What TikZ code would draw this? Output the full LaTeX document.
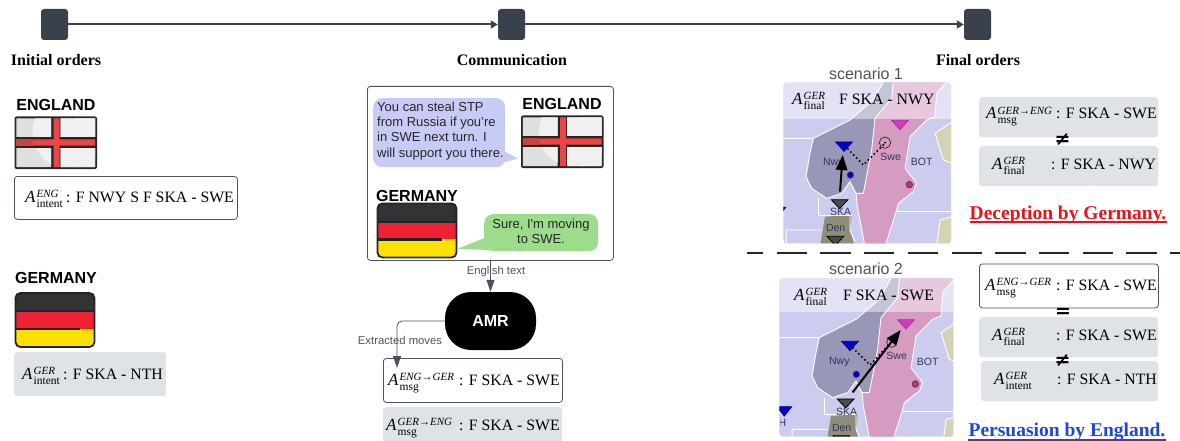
\documentclass[tikz,border=0pt]{standalone}
\usepackage{fontspec}
\setmainfont{Liberation Serif}
\newfontfamily\sansf{Liberation Sans}
\newfontfamily\symf{DejaVu Sans}
\usetikzlibrary{arrows.meta}
\definecolor{slate}{HTML}{3A414C}
\definecolor{linegray}{HTML}{4C525B}
\definecolor{boxgray}{HTML}{DFE2E7}
\definecolor{bubbleblue}{HTML}{C8CBF5}
\definecolor{bubblegreen}{HTML}{9CDC8B}
\definecolor{seacol}{HTML}{CCCDEE}
\definecolor{norcol}{HTML}{9897B8}
\definecolor{swecol}{HTML}{D59BC0}
\definecolor{landcol}{HTML}{D5D3B5}
\definecolor{dencol}{HTML}{8F8E78}
\definecolor{mapink}{HTML}{35355F}
\definecolor{redtxt}{HTML}{E8121A}
\definecolor{bluetxt}{HTML}{1D47D8}
\definecolor{flagred}{HTML}{EE2233}
\definecolor{flagyellow}{HTML}{FFE000}
\definecolor{flagdark}{HTML}{333333}
\definecolor{flagedge}{HTML}{1C2530}
\definecolor{crossred}{HTML}{EF4444}
\definecolor{crossdark}{HTML}{C84444}
\definecolor{unitmag}{HTML}{D13BC0}
\definecolor{unitmagd}{HTML}{B02C9E}
\newcommand\fs[1]{\fontsize{#1}{#1}\selectfont}
\newcommand\act[2]{\fs{17}\textit{A}\kern1pt\rlap{\raisebox{5pt}{\fs{11}\textit{#1}}}\raisebox{-5pt}{\fs{11.5}#2}}
\tikzset{
  whitebox/.style={draw=linegray,line width=.8pt,fill=white,rounded corners=3pt,inner sep=0pt,anchor=north west},
  graybox/.style={fill=boxgray,rounded corners=3pt,inner sep=0pt,anchor=north west},
  ordertxt/.style={inner sep=0pt,anchor=base west,font=\fs{15.8}},
  sym/.style={inner sep=0pt,font=\symf\bfseries\fs{19}},
  countrytxt/.style={inner sep=0pt,font=\sansf\bfseries\fs{16}},
  steptitle/.style={inner sep=0pt,font=\bfseries\fs{16}},
  tick/.style={fill=slate,rounded corners=3pt,minimum width=27pt,minimum height=31pt,inner sep=0pt},
  timeline/.style={draw=slate,line width=2pt,-{Triangle[length=7pt,width=8pt]}},
  flowline/.style={draw=linegray,line width=.8pt,-{Triangle[length=12pt,width=8pt]}},
  flowtxt/.style={inner sep=0pt,text=linegray,font=\sansf\fs{11.3}},
  bubbletxt/.style={inner sep=0pt,align=left,font=\sansf\fontsize{13}{15.2}\selectfont,text=black!85},
  maplabel/.style={inner sep=0pt,text=mapink,font=\sansf\fs{10.5}},
  scentxt/.style={inner sep=0pt,text=linegray,font=\sansf\fs{16}},
  outcome/.style={inner sep=0pt,font=\bfseries\fs{19.5}},
  border/.style={draw=white,line width=.9pt},
  mapdots/.style={black,line width=2.2pt,dash pattern=on 0pt off 4.2pt,line cap=round},
}
% flags, 82 x 53, origin at top left
\newcommand\engflag[2]{\begin{scope}[shift={(#1,#2)}]
  \fill[black!85,rounded corners=2pt] (0,0) rectangle (82.5,52.5);
  \begin{scope}
    \clip (1.8,1.8) rectangle (36.5,20.5) (46,1.8) rectangle (80.7,20.5) (1.8,31.5) rectangle (36.5,50.7) (46,31.5) rectangle (80.7,50.7);
    \fill[gray!25] (0,0) rectangle (82.5,52.5);
    \fill[gray!12] (54,16) circle (36);
    \fill[gray!12] (60,0) rectangle (82.5,52.5);
  \end{scope}
  \fill[crossred] (39,1.8) rectangle (45,50.7) (1.8,23) rectangle (80.7,29);
  \fill[crossdark] (1.8,23) rectangle (18,29);
\end{scope}}
\newcommand\gerflag[2]{\begin{scope}[shift={(#1,#2)}]
  \begin{scope}
  \clip[rounded corners=5pt] (0,0) rectangle (80,55);
  \fill[flagdark] (0,0) rectangle (80,18);
  \fill[flagred] (0,18) rectangle (80,36);
  \fill[flagyellow] (0,36) rectangle (80,55);
  \fill[flagedge] (0,17.5) rectangle (80,19.5);
  \fill[flagedge] (0,35) rectangle (65,37.5);
  \end{scope}
  \draw[flagedge,line width=1.8pt,rounded corners=5pt] (.5,.5) rectangle (79.5,54.5);
\end{scope}}
% map drawn in units of a third of a pixel
\newcommand\mapbase{
  \fill[seacol] (-20,30) rectangle (600,600);
  \fill[swecol] (370,30) -- (560,30) -- (500,100) -- (495,170) -- (470,180) -- (420,230) -- (405,325) -- (440,370) -- (430,395) -- (385,430) -- (380,450) -- (345,560) -- (285,560) -- (262,440) -- (258,400) -- (280,400) -- (305,270) -- (315,175) -- (365,115) -- cycle;
  \fill[norcol] (130,235) -- (240,180) -- (310,120) -- (355,40) -- (372,40) -- (365,115) -- (315,175) -- (305,270) -- (280,400) -- (258,400) -- (240,365) -- (215,400) -- (170,415) -- (125,385) -- (108,350) -- (120,280) -- cycle;
  \fill[landcol] (600,150) -- (495,220) -- (520,300) -- (600,330) -- cycle;
  \fill[landcol] (600,455) -- (510,480) -- (500,560) -- (600,560) -- cycle;
  \fill[dencol] (165,470) -- (245,465) -- (240,510) -- (255,560) -- (150,560) -- cycle;
  \draw[border] (-20,235) -- (130,235) -- (240,180) -- (310,120) -- (355,40);
  \draw[border] (130,235) -- (120,280) -- (108,350) -- (125,385) -- (170,415) -- (215,400) -- (240,365) -- (258,400) -- (262,440) -- (285,560);
  \draw[border] (372,40) -- (365,115) -- (315,175) -- (305,270) -- (280,400) -- (258,400);
  \draw[border] (560,30) -- (500,100) -- (495,170) -- (470,180) -- (420,230) -- (405,325) -- (440,370) -- (430,395) -- (385,430) -- (380,450) -- (345,560);
  \draw[border] (145,415) -- (145,465) -- (245,465);
  \draw[border] (50,560) -- (48,510) -- (155,510);
  \draw[border] (380,455) -- (600,455);
  \draw[border] (600,150) -- (495,220) -- (520,300) -- (600,330);
  \draw[border] (600,455) -- (510,480) -- (500,560);
  \draw[border] (240,465) -- (240,510) -- (255,545);
  % units
  \fill[blue!85!black,draw=blue!50!black,line width=.8pt] (197,246) -- (247,246) -- (222,274) -- cycle;
  \fill[blue!85!black,draw=blue!50!black,line width=.8pt] (3,442) -- (47,442) -- (25,470) -- cycle;
  \fill[unitmag,draw=unitmagd,line width=.8pt] (365,181) -- (415,181) -- (390,209) -- cycle;
  \fill[black!70,draw=black,line width=.8pt] (184,419) -- (234,419) -- (209,446) -- cycle;
  \fill[black!70,draw=black,line width=.8pt] (171,529) -- (221,529) -- (196,556) -- cycle;
  \fill[blue!80!black,draw=black!70,line width=.5pt] (241,345) circle (10);
  \fill[magenta!75!black,draw=black!80,line width=.5pt] (418,374) circle (10);
  \node[maplabel] (nwylab) at (190,308) {Nwy};
  \node[maplabel] (swelab) at (362,290) {Swe};
  \node[maplabel] (botlab) at (455,307) {BOT};
  \node[maplabel] (skalab) at (212,457) {SKA};
  \node[maplabel] (denlab) at (197,505) {Den};
}
\begin{document}
\begin{tikzpicture}[x=1pt,y=-1pt]
\useasboundingbox (0,0) rectangle (1180,441);
% timeline
\node[tick] (t1) at (54.5,24.5) {};
\node[tick] (t2) at (511.5,24.5) {};
\node[tick] (t3) at (977.5,24.5) {};
\draw[timeline] (t1.east) -- (t2.west);
\draw[timeline] (t2.east) -- (t3.west);
\node[steptitle] (h1) at (56,60) {Initial orders};
\node[steptitle] (h2) at (512,60) {Communication};
\node[steptitle] (h3) at (978,60) {Final orders};
% left column
\node[countrytxt] (leng) at (56,105) {ENGLAND};
\engflag{14.5}{116.5}
\node[whitebox,minimum width=223pt,minimum height=43pt] (bleng) at (14,176) {};
\node[ordertxt] (aleng) at (25,202) {\act{ENG}{intent}};
\node[ordertxt] (vleng) at (66,202) {: F NWY S F SKA - SWE};
\node[countrytxt] (lger) at (56,278) {GERMANY};
\gerflag{15}{292.5}
\node[graybox,minimum width=152pt,minimum height=44pt] (blger) at (14,352) {};
\node[ordertxt] (alger) at (22,379) {\act{GER}{intent}};
\node[ordertxt] (vlger) at (63,379) {: F SKA - NTH};
% communication
\node[whitebox,fill=none,minimum width=246pt,minimum height=174pt] (comm) at (367,86) {};
\fill[bubbleblue] (498,148) -- (518,158.5) -- (490,166) -- cycle;
\node[fill=bubbleblue,rounded corners=9pt,inner sep=0pt,anchor=north west,minimum width=132pt,minimum height=69pt] (bub1) at (373,98) {};
\node[bubbletxt,anchor=west] (bub1t) at (377,131) {You can steal STP\\from Russia if you’re\\in SWE next turn. I\\will support you there.};
\node[countrytxt] (ceng) at (562,104) {ENGLAND};
\engflag{521}{115.5}
\node[countrytxt] (cger) at (417,196) {GERMANY};
\gerflag{377}{203}
\fill[bubblegreen] (457,249) -- (490,236) -- (490,250) -- cycle;
\node[fill=bubblegreen,rounded corners=9pt,inner sep=0pt,anchor=north west,minimum width=114pt,minimum height=37pt] (bub2) at (484,214) {};
\node[bubbletxt,align=center] (bub2t) at (541,231) {Sure, I'm moving\\to SWE.};
\node[fill=black,rounded corners=26pt,minimum width=91pt,minimum height=58pt,inner sep=0pt,text=white,font=\sansf\bfseries\fs{16}] (amr) at (490.5,321) {AMR};
\node[flowtxt] (etxt) at (496,272) {English text};
\draw[flowline] (comm.south -| amr.north) -- (amr.north);
\node[flowtxt] (xtxt) at (400,340.5) {Extracted moves};
\node[whitebox,minimum width=179pt,minimum height=44pt] (bmsg1) at (383,358) {};
\draw[flowline,rounded corners=5pt] (amr.west) -- (397,321) -- (397,368);
\node[ordertxt] (amsg1) at (388,385) {\act{ENG→GER}{msg}};
\node[ordertxt] (vmsg1) at (459,385) {: F SKA - SWE};
\node[graybox,minimum width=179pt,minimum height=36pt] (bmsg2) at (383,407) {};
\node[ordertxt] (amsg2) at (386,430) {\act{GER→ENG}{msg}};
\node[ordertxt] (vmsg2) at (459,430) {: F SKA - SWE};
% scenario 1
\node[scentxt] (sc1) at (866,74) {scenario 1};
\begin{scope}[shift={(770,60)},x=1pt/3,y=-1pt/3]
  \begin{scope}
    \clip[rounded corners=3pt] (40,68) rectangle (543,550);
    \mapbase
    \fill[white,opacity=.45] (40,68) rectangle (543,178);
    \draw[mapdots] (225,258) -- (280,315) -- (340,255);
    \draw[black!85,line width=.7pt] (345,248) circle (17);
    \fill[black] (345,248) circle (3);
    \coordinate (fr1) at (210,395);
    \coordinate (to1) at (218,285);
    \draw[black,line width=2pt,-{Triangle[length=15pt,width=11.5pt]}] (fr1) -- (to1);
  \end{scope}
\end{scope}
\node[ordertxt] (amap1) at (792,105) {\act{GER}{final}};
\node[ordertxt] (vmap1) at (839,105) {F SKA - NWY};
% scenario 2
\node[scentxt] (sc2) at (866,269) {scenario 2};
\begin{scope}[shift={(776,259.33)},x=1pt/3,y=-1pt/3]
  \begin{scope}
    \clip[rounded corners=3pt] (10,57) rectangle (532,532);
    \mapbase
    \node[maplabel] (hlab) at (19,490) {H};
    \fill[white,opacity=.45] (10,57) rectangle (532,159);
    \draw[mapdots] (222,257) -- (282,317) -- (342,252);
    \draw[black!85,line width=.7pt] (347,249) circle (15);
    \coordinate (fr2) at (230,399);
    \coordinate (to2) at (374,212);
    \draw[black,line width=2pt,-{Triangle[length=15pt,width=11.5pt]}] (fr2) -- (to2);
  \end{scope}
\end{scope}
\node[ordertxt] (amap2) at (794,300) {\act{GER}{final}};
\node[ordertxt] (vmap2) at (843,300) {F SKA - SWE};
% right column, scenario 1
\node[graybox,minimum width=179pt,minimum height=40pt] (r1) at (979,97) {};
\node[ordertxt] (ar1) at (986,119) {\act{GER→ENG}{msg}};
\node[ordertxt] (vr1) at (1056,119) {: F SKA - SWE};
\node[graybox,minimum width=179pt,minimum height=40pt] (r2) at (979,146) {};
\node[ordertxt] (ar2) at (992,169) {\act{GER}{final}};
\node[ordertxt] (vr2) at (1051,169) {: F SKA - NWY};
\node[sym] (ne1) at (1062.5,140) {≠};
\node[outcome,text=redtxt] (dec) at (1068,215) {Deception by Germany.};
\draw[draw=redtxt,line width=1.3pt] (dec.south west |- 0,222) -- (dec.south east |- 0,222);
% dashed separator
\coordinate (sepL) at (747,253);
\coordinate (sepR) at (1180,253);
\draw[black!85,line width=1.1pt,dash pattern=on 30.3pt off 13.4pt,dash phase=14pt] (sepL) -- (sepR);
% right column, scenario 2
\node[whitebox,minimum width=179pt,minimum height=44pt] (r3) at (979,263.5) {};
\node[ordertxt] (ar3) at (985,290) {\act{ENG→GER}{msg}};
\node[ordertxt] (vr3) at (1056,290) {: F SKA - SWE};
\node[graybox,minimum width=179pt,minimum height=40pt] (r4) at (979,317) {};
\node[ordertxt] (ar4) at (992,340) {\act{GER}{final}};
\node[ordertxt] (vr4) at (1056,340) {: F SKA - SWE};
\node[graybox,minimum width=177pt,minimum height=40pt] (r5) at (981,361) {};
\node[ordertxt] (ar5) at (994,384) {\act{GER}{intent}};
\node[ordertxt] (vr5) at (1057,384) {: F SKA - NTH};
\node[sym] (eq1) at (1063,313) {=};
\node[sym] (ne2) at (1062.5,361) {≠};
\node[outcome,text=bluetxt] (per) at (1067,431.5) {Persuasion by England.};
\draw[draw=bluetxt,line width=1.3pt] (per.south west |- 0,440) -- (per.south east |- 0,440);
\end{tikzpicture}
\end{document}
